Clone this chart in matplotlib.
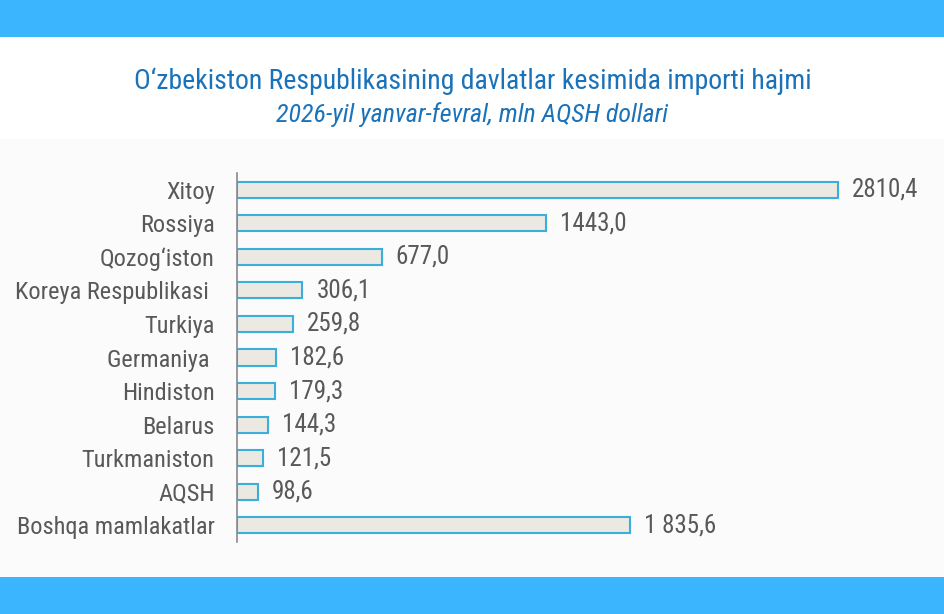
import matplotlib
matplotlib.use('Agg')
import matplotlib.pyplot as plt
from matplotlib import font_manager
from matplotlib.patches import Rectangle

# Ma'lumotlar
countries = ['Xitoy', 'Rossiya', 'Qozog‘iston', 'Koreya Respublikasi ', 'Turkiya',
             'Germaniya ', 'Hindiston', 'Belarus', 'Turkmaniston', 'AQSH',
             'Boshqa mamlakatlar']
values = [2810.4, 1443.0, 677.0, 306.1, 259.8, 182.6, 179.3, 144.3, 121.5, 98.6, 1835.6]
value_labels = ['2810,4', '1443,0', '677,0', '306,1', '259,8', '182,6', '179,3',
                '144,3', '121,5', '98,6', '1 835,6']

title = 'O‘zbekiston Respublikasining davlatlar kesimida importi hajmi'
subtitle = '2026-yil yanvar-fevral, mln AQSH dollari'

# shrift: tor shrift bo'lsa o'shani olamiz
names = {f.name for f in font_manager.fontManager.ttflist}
narrow = next((n for n in ['Roboto Condensed', 'Liberation Sans Narrow']
               if n in names), None)
if narrow:
    font, lab_size, val_size, title_size, sub_size = narrow, 17.6, 18, 20, 18.7
else:
    font, lab_size, val_size, title_size, sub_size = 'Roboto', 14.5, 15, 17, 16

plt.rcParams['font.family'] = [font, 'DejaVu Sans']

band_color = '#3bb5fd'
bar_fill = '#ebe9e2'
bar_edge = '#3aafdc'
text_gray = '#595959'
title_blue = '#1a72b9'

fig = plt.figure(figsize=(9.45, 6.14), dpi=100)
fig.patch.set_facecolor('white')

# fon va ko'k chiziqlar
fig.patches.append(Rectangle((0, 0.06), 1, 0.713, transform=fig.transFigure,
                             facecolor='#fbfbfb', edgecolor='none', zorder=0))
fig.patches.append(Rectangle((0, 0.9397), 1, 0.0603, transform=fig.transFigure,
                             facecolor=band_color, edgecolor='none', zorder=1))
fig.patches.append(Rectangle((0, 0), 1, 0.0603, transform=fig.transFigure,
                             facecolor=band_color, edgecolor='none', zorder=1))

fig.text(0.5, 0.867, title, ha='center', va='center', color=title_blue,
         fontsize=title_size)
fig.text(0.5, 0.813, subtitle, ha='center', va='center', color=title_blue,
         fontsize=sub_size, style='italic')

ax = fig.add_axes([0.2508, 0.1173, 0.679, 0.6009])
ax.set_zorder(3)
ax.patch.set_alpha(0)
y = list(range(len(countries)))
ax.barh(y, values, height=0.48, color=bar_fill, edgecolor=bar_edge, linewidth=1.5)
ax.set_xlim(0, 3000)
ax.set_ylim(len(countries) - 0.5, -0.5)

for yi, v, lab in zip(y, values, value_labels):
    ax.annotate(lab, (v, yi), xytext=(10, 0), textcoords='offset points',
                ha='left', va='center', color=text_gray, fontsize=val_size)

ax.set_yticks(y)
ax.set_yticklabels(countries, color=text_gray, fontsize=lab_size)
ax.tick_params(axis='y', length=0, pad=16)
ax.set_xticks([])
for s in ['top', 'right', 'bottom']:
    ax.spines[s].set_visible(False)
ax.spines['left'].set_color('#8a8a8a')
ax.spines['left'].set_linewidth(1.2)

fig.savefig('out.png', dpi=100)
